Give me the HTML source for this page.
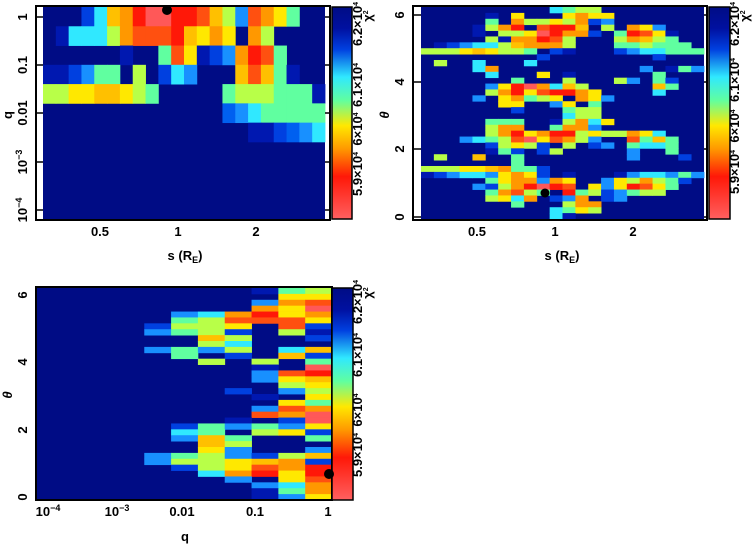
<!DOCTYPE html>
<html><head><meta charset="utf-8"><style>
html,body{margin:0;padding:0;background:#fff;}
svg{display:block;}
text{font-family:"Liberation Sans",sans-serif;font-weight:bold;font-size:13px;fill:#000;}
</style></head><body>
<svg id="s" width="754" height="544" viewBox="0 0 754 544" xmlns="http://www.w3.org/2000/svg">
<defs>
<linearGradient id="cb" x1="0" y1="0" x2="0" y2="1">
<stop offset="0" stop-color="#000c85"/><stop offset="0.1" stop-color="#0010a0"/>
<stop offset="0.2" stop-color="#0040e0"/><stop offset="0.33" stop-color="#30e8ff"/>
<stop offset="0.44" stop-color="#60ffa0"/><stop offset="0.56" stop-color="#ffe800"/>
<stop offset="0.67" stop-color="#ff9800"/><stop offset="0.8" stop-color="#ff1808"/>
<stop offset="1" stop-color="#ff6060"/></linearGradient>
</defs>
<g id="cells"></g>
<rect x="36" y="6" width="294" height="214" fill="none" stroke="#000" stroke-width="2"/>
<rect x="413" y="6" width="294" height="214" fill="none" stroke="#000" stroke-width="2"/>
<rect x="36" y="287" width="296" height="213" fill="none" stroke="#000" stroke-width="2"/>
<rect x="332" y="7" width="20" height="212" fill="url(#cb)" stroke="#000" stroke-width="1.5"/>
<rect x="709" y="7" width="21" height="212" fill="url(#cb)" stroke="#000" stroke-width="1.5"/>
<rect x="332" y="288" width="21" height="212" fill="url(#cb)" stroke="#000" stroke-width="1.5"/>
<g stroke="#000" stroke-width="1.5">
<line x1="36" y1="17" x2="43" y2="17"/><line x1="36" y1="65" x2="43" y2="65"/><line x1="36" y1="113" x2="43" y2="113"/><line x1="36" y1="162" x2="43" y2="162"/><line x1="36" y1="210" x2="43" y2="210"/>
<line x1="325" y1="17" x2="330" y2="17"/><line x1="325" y1="65" x2="330" y2="65"/><line x1="325" y1="113" x2="330" y2="113"/><line x1="325" y1="162" x2="330" y2="162"/><line x1="325" y1="210" x2="330" y2="210"/>
<line x1="413" y1="15" x2="421" y2="15"/><line x1="413" y1="82" x2="421" y2="82"/><line x1="413" y1="149" x2="421" y2="149"/><line x1="413" y1="217" x2="421" y2="217"/>
<line x1="704" y1="15" x2="707" y2="15"/><line x1="704" y1="82" x2="707" y2="82"/><line x1="704" y1="149" x2="707" y2="149"/><line x1="704" y1="217" x2="707" y2="217"/>
</g>
<text x="100" y="236" text-anchor="middle">0.5</text>
<text x="178" y="236" text-anchor="middle">1</text>
<text x="256" y="236" text-anchor="middle">2</text>
<text x="185" y="260" text-anchor="middle">s (R<tspan font-size="9" dy="3">E</tspan><tspan dy="-3">)</tspan></text>
<text transform="translate(27,17) rotate(-90)" text-anchor="middle">1</text>
<text transform="translate(27,65) rotate(-90)" text-anchor="middle">0.1</text>
<text transform="translate(27,113) rotate(-90)" text-anchor="middle">0.01</text>
<text transform="translate(27,162) rotate(-90)" text-anchor="middle">10<tspan font-size="9" dy="-5">−3</tspan></text>
<text transform="translate(27,210) rotate(-90)" text-anchor="middle">10<tspan font-size="9" dy="-5">−4</tspan></text>
<text transform="translate(12,115) rotate(-90)" text-anchor="middle">q</text>
<text x="477" y="236" text-anchor="middle">0.5</text>
<text x="555" y="236" text-anchor="middle">1</text>
<text x="633" y="236" text-anchor="middle">2</text>
<text x="562" y="260" text-anchor="middle">s (R<tspan font-size="9" dy="3">E</tspan><tspan dy="-3">)</tspan></text>
<text transform="translate(404,15) rotate(-90)" text-anchor="middle">6</text>
<text transform="translate(404,82) rotate(-90)" text-anchor="middle">4</text>
<text transform="translate(404,149) rotate(-90)" text-anchor="middle">2</text>
<text transform="translate(404,217) rotate(-90)" text-anchor="middle">0</text>
<text transform="translate(389,115) rotate(-90)" text-anchor="middle" font-style="italic">θ</text>
<text x="48" y="516" text-anchor="middle">10<tspan font-size="9" dy="-5">−4</tspan></text>
<text x="117" y="516" text-anchor="middle">10<tspan font-size="9" dy="-5">−3</tspan></text>
<text x="182" y="516" text-anchor="middle">0.01</text>
<text x="255" y="516" text-anchor="middle">0.1</text>
<text x="328" y="516" text-anchor="middle">1</text>
<text x="185" y="541" text-anchor="middle">q</text>
<text transform="translate(27,295) rotate(-90)" text-anchor="middle">6</text>
<text transform="translate(27,362) rotate(-90)" text-anchor="middle">4</text>
<text transform="translate(27,430) rotate(-90)" text-anchor="middle">2</text>
<text transform="translate(27,497) rotate(-90)" text-anchor="middle">0</text>
<text transform="translate(12,395) rotate(-90)" text-anchor="middle" font-style="italic">θ</text>
<g>
<text transform="translate(362,24) rotate(-90)" text-anchor="middle" font-size="10">6.2×10<tspan font-size="7" dy="-4">4</tspan></text>
<text transform="translate(362,85) rotate(-90)" text-anchor="middle" font-size="10">6.1×10<tspan font-size="7" dy="-4">4</tspan></text>
<text transform="translate(362,129) rotate(-90)" text-anchor="middle" font-size="10">6×10<tspan font-size="7" dy="-4">4</tspan></text>
<text transform="translate(362,174) rotate(-90)" text-anchor="middle" font-size="10">5.9×10<tspan font-size="7" dy="-4">4</tspan></text>
<text transform="translate(372,16) rotate(-90)" text-anchor="middle" font-size="10">χ<tspan font-size="7" dy="-4">2</tspan></text>
<text transform="translate(739,24) rotate(-90)" text-anchor="middle" font-size="10">6.2×10<tspan font-size="7" dy="-4">4</tspan></text>
<text transform="translate(739,80) rotate(-90)" text-anchor="middle" font-size="10">6.1×10<tspan font-size="7" dy="-4">4</tspan></text>
<text transform="translate(739,126) rotate(-90)" text-anchor="middle" font-size="10">6×10<tspan font-size="7" dy="-4">4</tspan></text>
<text transform="translate(739,172) rotate(-90)" text-anchor="middle" font-size="10">5.9×10<tspan font-size="7" dy="-4">4</tspan></text>
<text transform="translate(749,16) rotate(-90)" text-anchor="middle" font-size="10">χ<tspan font-size="7" dy="-4">2</tspan></text>
<text transform="translate(362,302) rotate(-90)" text-anchor="middle" font-size="10">6.2×10<tspan font-size="7" dy="-4">4</tspan></text>
<text transform="translate(362,355) rotate(-90)" text-anchor="middle" font-size="10">6.1×10<tspan font-size="7" dy="-4">4</tspan></text>
<text transform="translate(362,410) rotate(-90)" text-anchor="middle" font-size="10">6×10<tspan font-size="7" dy="-4">4</tspan></text>
<text transform="translate(362,455) rotate(-90)" text-anchor="middle" font-size="10">5.9×10<tspan font-size="7" dy="-4">4</tspan></text>
<text transform="translate(372,293) rotate(-90)" text-anchor="middle" font-size="10">χ<tspan font-size="7" dy="-4">2</tspan></text>
</g>
<g id="dots"></g>
</svg>
<script>
var C={'.':'#000c85',D:'#0018b0',B:'#0040e0',b:'#0060f0',c:'#1890ff',C:'#30e8ff',G:'#60ffa0',g:'#b8ff48',Y:'#ffe800',o:'#ffc000',O:'#ff9800',r:'#ff5010',R:'#ff1808',P:'#ff5858'};
var p1=["...BCoORPPRRrogcrOYG..",".DCCCgOrrrRoYOY.Og....","......D..GrYDBcORrG...","DDBcGG.g.BCc...oroGD..","ggYYooYgG.....GgggGGGD","..............bcCGGGGG","................DDBbcC","......................","......................","......................","......................"];
var p2=["..........CGgg........",".....D.Y...YOYY.......",".....G.OggYgOBc.......","....DgOR.rRRo.g.OYc...","....D.ggYPROOB.GRrYD..",".....gDOORrg...gOogG..",".DBcCCgoOOOg...GGgGGG.","gggYoYggG.BD...BcCCGGG",".........B........B...",".g..C...C.............","....CO...........c.DGc",".....C...Y.D......G...",".......G...g...gc.GB..",".....cYRPOCog.....oG..",".....gORYrRROY....C...","....c.YOGgY.OYc.......","......YY..cY.G........",".......B...Ggg........","...........Cgg........",".....GGG..DgOCY.......",".....gOO..GOOc........",".....gORYORRgYggOYC...","...cCGgrPYrOgc..rGoG..",".....BgYgB.g.Bc.GCCG..",".....DGB.Bg.....c..G..",".g..o..G........c...B.",".......G..............","gggYYoOGGB............","DBcCCcYOYB.D...DcCCcGc",".....GYOOcOY..cYgOgGB.","....cBgORPRr.YcYRrYG..",".....GOrgG.RGgBcGgg...",".....gYCO.BcO.Bc......",".......G...gOO........","..........CGYg........","..........CD.........."];
var p3=["........DGg",".........YY","........cOr","........OYP",".....cCORYO",".....GgrrrY","....BggY.rB","....cGgB.gD","......og..B","......gC...","....cGcg.Co",".....G.B.oB","......g.g.G","........D.P","........crR","........cYo",".........gY",".......B.cg","........D.Y",".........YG","........crO","........rOP",".......D.BP",".....BGcGcY",".....CG.gYB",".....coG..G","......og...","......Yc..c","....cGgcBgo","....cggYoOB",".....BgYrOR","......CORYR",".......c.Yr","........cCO","........DGO","........DcY"];
var h='';
function draw(rows,x0,y0,w,hgt){var nr=rows.length,nc=rows[0].length,cw=w/nc,ch=hgt/nr;
 h+='<rect x="'+x0+'" y="'+y0+'" width="'+w+'" height="'+hgt+'" fill="#000c85"/>';
 for(var i=0;i<nr;i++)for(var j=0;j<nc;j++){var k=rows[i][j];if(k!=='.')h+='<rect x="'+(x0+j*cw).toFixed(2)+'" y="'+(y0+i*ch).toFixed(2)+'" width="'+(cw+0.4).toFixed(2)+'" height="'+(ch+0.4).toFixed(2)+'" fill="'+C[k]+'"/>';}}
draw(p1,43,7,282,212);
draw(p2,421,7,283,212);
draw(p3,37,288,295,212);
document.getElementById('cells').innerHTML=h;
document.getElementById('dots').innerHTML='<circle cx="167" cy="10" r="5" fill="#000"/><circle cx="545" cy="193" r="4.5" fill="#000"/><circle cx="329" cy="474" r="5" fill="#000"/>';
</script>
</body></html>
